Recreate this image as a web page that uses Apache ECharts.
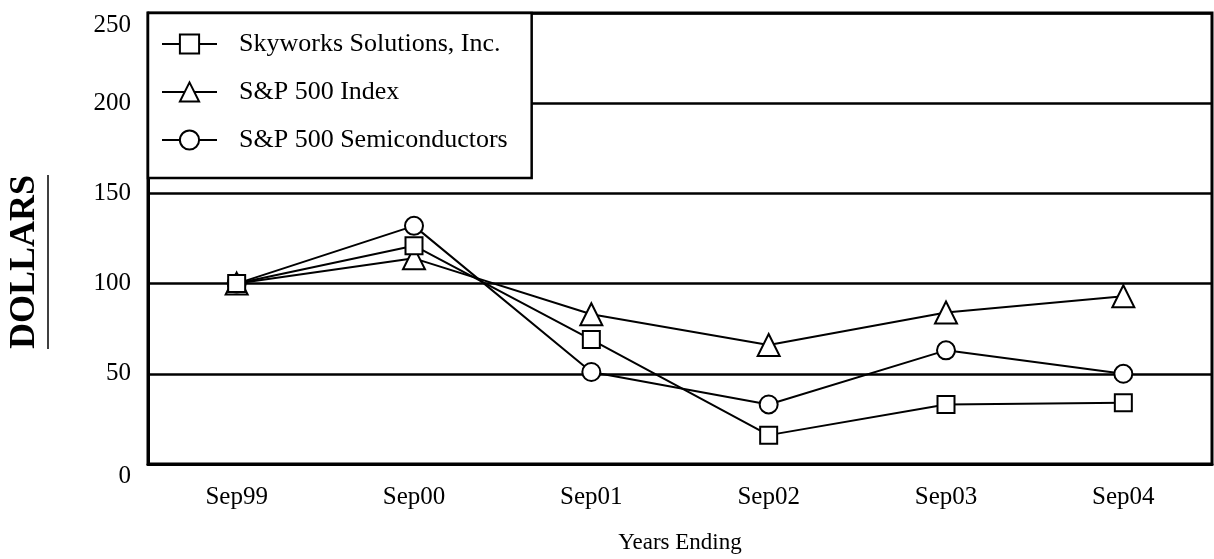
<!DOCTYPE html>
<html>
    <head>
        <meta charset="utf-8">
        <script src="https://cdn.jsdelivr.net/npm/echarts@6/dist/echarts.min.js"></script>
    </head>
    <body>
        <style>
            html, body, #main {
                width: 100%;
                height: 100%;
                margin: 0;
                background: #fff;
            }
        </style>
        <div id="main"></div>

        <script>
            var years = ['Sep99', 'Sep00', 'Sep01', 'Sep02', 'Sep03', 'Sep04'];
            var seriesNames = ['Skyworks Solutions, Inc.', 'S&P 500 Index', 'S&P 500 Semiconductors'];
            var skyworks = [100, 121, 69, 16, 33, 34];
            var sp500 = [100, 114, 83, 66, 84, 93];
            var semis = [100, 132, 51, 33, 63, 50];

            var font = '"Liberation Serif", "DejaVu Serif", serif';
            var chart = echarts.init(document.getElementById('main'));

            function lineSeries(name, data, symbol, size, z) {
                return {
                    name: name,
                    type: 'line',
                    data: data,
                    symbol: symbol,
                    symbolSize: size,
                    showAllSymbol: true,
                    z: z,
                    lineStyle: { color: '#000', width: 2 },
                    itemStyle: { color: '#fff', borderColor: '#000', borderWidth: 2 },
                    emphasis: { disabled: true }
                };
            }

            chart.setOption({
                animation: false,
                grid: {
                    left: 148,
                    right: 2,
                    top: 13,
                    bottom: 91,
                    show: true,
                    borderColor: '#000',
                    borderWidth: 3,
                    backgroundColor: 'transparent'
                },
                legend: {
                    orient: 'vertical',
                    left: 148,
                    top: 13,
                    padding: [18, 24, 25, 13],
                    itemWidth: 55,
                    itemHeight: 24,
                    itemGap: 22,
                    backgroundColor: '#fff',
                    borderColor: '#000',
                    borderWidth: 2.5,
                    borderRadius: 0,
                    textStyle: {
                        fontFamily: font,
                        fontSize: 26,
                        color: '#000',
                        padding: [0, 0, 0, 17]
                    },
                    data: seriesNames
                },
                xAxis: {
                    type: 'category',
                    data: years,
                    boundaryGap: true,
                    name: 'Years Ending',
                    nameLocation: 'middle',
                    nameGap: 67,
                    nameTextStyle: { fontFamily: font, fontSize: 23, color: '#000' },
                    axisLine: { lineStyle: { color: '#000', width: 3 } },
                    axisTick: { alignWithLabel: true, length: 10, lineStyle: { color: '#000', width: 2 } },
                    axisLabel: { fontFamily: font, fontSize: 25, color: '#000', margin: 21 }
                },
                yAxis: {
                    type: 'value',
                    min: 0,
                    max: 250,
                    interval: 50,
                    axisLine: { show: true, lineStyle: { color: '#000', width: 3 } },
                    axisTick: { show: false },
                    axisLabel: {
                        fontFamily: font,
                        fontSize: 25,
                        color: '#000',
                        margin: 17,
                        verticalAlignMaxLabel: 'top',
                        verticalAlignMinLabel: 'top'
                    },
                    splitLine: { lineStyle: { color: '#000', width: 2.5 } }
                },
                graphic: [{
                    type: 'text',
                    x: 25,
                    y: 262,
                    rotation: Math.PI / 2,
                    style: {
                        text: 'DOLLARS',
                        fontFamily: font,
                        fontSize: 36,
                        fontWeight: 'bold',
                        fill: '#000',
                        align: 'center',
                        verticalAlign: 'middle'
                    },
                    silent: true
                }, {
                    type: 'line',
                    shape: { x1: 48, y1: 175, x2: 48, y2: 349 },
                    style: { stroke: '#000', lineWidth: 1.5 },
                    silent: true
                }],
                // square series sits on top, as in the source chart
                series: [
                    lineSeries(seriesNames[0], skyworks, 'rect', 17, 4),
                    lineSeries(seriesNames[1], sp500, 'triangle', 22, 2),
                    lineSeries(seriesNames[2], semis, 'circle', 18, 3)
                ]
            });

            window.onresize = chart.resize;
        </script>
    </body>
</html>
